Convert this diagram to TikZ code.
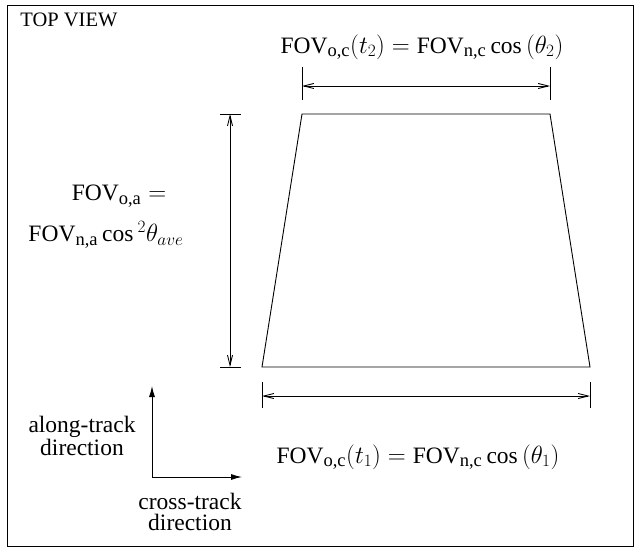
\documentclass[tikz,border=0pt]{standalone}
\usepackage{amsmath}
\usepackage{fontspec}
\setmainfont{Liberation Serif}
\usetikzlibrary{arrows.meta,positioning}
\newcommand{\fovsub}[1]{\text{\fontsize{18.5}{18.5}\selectfont #1}}

\begin{document}
\begin{tikzpicture}[
    x=1pt,y=-1pt,
    every path/.style={line width=0.9pt},
    lbl/.style={align=center,inner sep=0pt,font=\fontsize{23.5}{20.5}\selectfont},
    dim/.style={{Straight Barb[length=10pt,width=5pt]}-{Straight Barb[length=10pt,width=5pt]}},
    axis/.style={-{Latex[length=11pt,width=6pt]}}
  ]
    \useasboundingbox (0,0) rectangle (634,548);
    \draw (7,5) rectangle (633.5,546);
    \node[lbl,font=\fontsize{20.5}{24}\selectfont,anchor=west] (title) at (20,20) {TOP VIEW};

    % footprint
    \coordinate (tl) at (302,114);
    \coordinate (tr) at (550,114);
    \coordinate (br) at (590,367);
    \coordinate (bl) at (262,367);
    \draw (tl) -- (tr) -- (br) -- (bl) -- cycle;

    % cross-track width, far edge
    \coordinate (t1) at (302,67);
    \coordinate (t2) at (550,67);
    \draw (t1) -- (tl |- 0,100);
    \draw (t2) -- (tr |- 0,100);
    \draw[dim] (302,86) coordinate (ta) -- (550,86) coordinate (tb);
    \node[lbl] (toplbl) at (422,47) {$\text{FOV}_{\fovsub{o,c}}(t_2)=\text{FOV}_{\fovsub{n,c}}\cos\left(\theta_2\right)$};

    % along-track length
    \draw (220,114) -- (241,114);
    \draw (220,367) -- (241,367);
    \draw[dim] (230,114) coordinate (la) -- (230,367) coordinate (lb);
    \node[lbl] (leftlbl1) at (119,196) {$\text{FOV}_{\fovsub{o,a}}=$};
    \node[lbl] (leftlbl2) at (106,235) {$\text{FOV}_{\fovsub{n,a}}\cos{}^2\theta_{ave}$};

    % cross-track width, near edge
    \draw (262,382) -- (262,408);
    \draw (590,382) -- (590,408);
    \draw[dim] (262,396) coordinate (ba) -- (590,396) coordinate (bb);
    \node[lbl] (botlbl) at (418,457) {$\text{FOV}_{\fovsub{o,c}}(t_1)=\text{FOV}_{\fovsub{n,c}}\cos\left(\theta_1\right)$};

    % directions
    \coordinate (o) at (152,477);
    \coordinate (up) at (152,386);
    \coordinate (rt) at (242,477);
    \draw[axis] (o) -- (up);
    \draw[axis] (o) -- (rt);
    \node[lbl] (along) at (82,436) {along-track\\direction};
    \node[lbl] (cross) at (190,512) {cross-track\\direction};
\end{tikzpicture}
\end{document}
